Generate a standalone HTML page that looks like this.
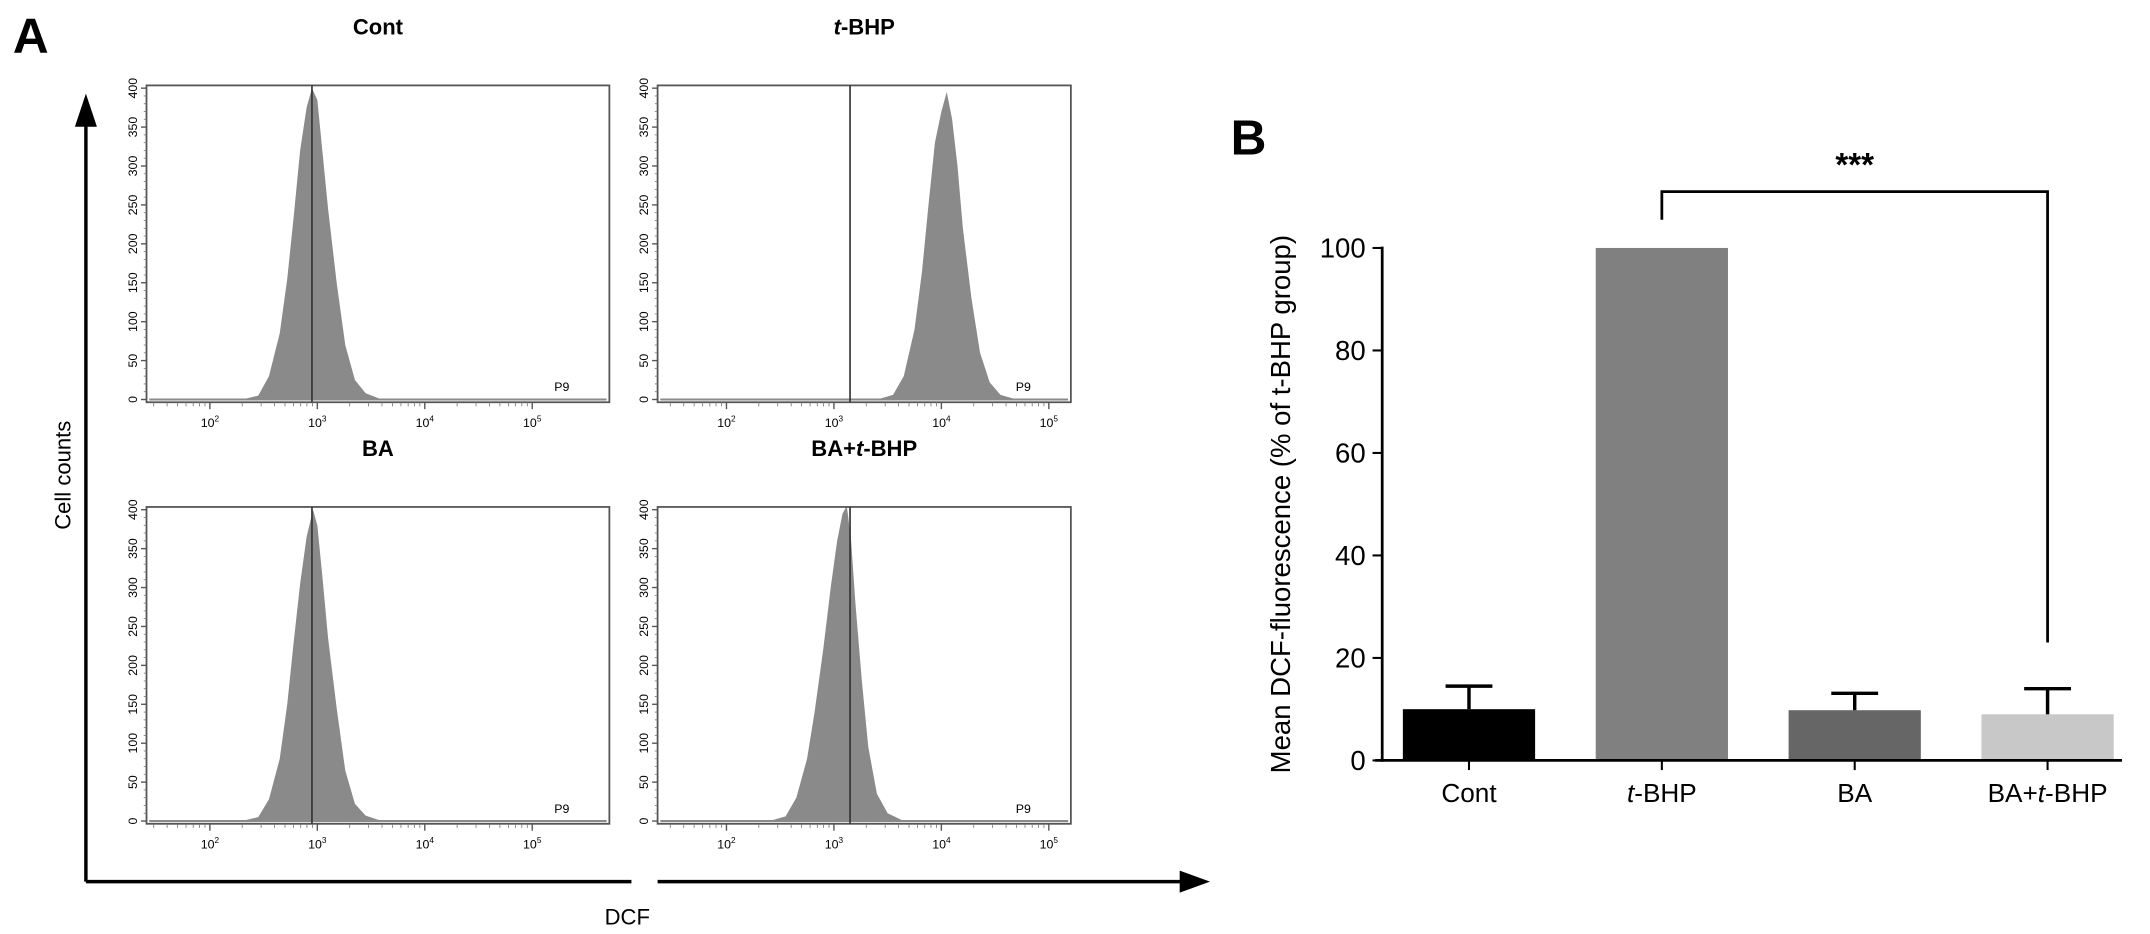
<!DOCTYPE html>
<html><head><meta charset="utf-8"><style>
html,body{margin:0;padding:0;background:#fff;}
svg{display:block;font-family:"Liberation Sans",Arial,sans-serif;}
</style></head><body>
<svg id="fig" width="2150" height="934" viewBox="0 0 1560 678" xmlns="http://www.w3.org/2000/svg">
<text x="9" y="38" font-size="36" font-weight="bold">A</text>
<text x="893" y="112" font-size="36" font-weight="bold">B</text>
<g>
<line x1="62" y1="640" x2="62" y2="85" stroke="#000" stroke-width="2.5"/>
<polygon points="62,68 54,92 70,92" fill="#000"/>
<line x1="62" y1="640" x2="458" y2="640" stroke="#000" stroke-width="2.5"/>
<line x1="477" y1="640" x2="862" y2="640" stroke="#000" stroke-width="2.5"/>
<polygon points="878,640 856,632 856,648" fill="#000"/>
<text x="0" y="0" transform="translate(51,345) rotate(-90)" text-anchor="middle" font-size="16">Cell counts</text>
<text x="455" y="671" text-anchor="middle" font-size="16">DCF</text>
</g>
<g id="hists"></g>
<g id="bars"></g>
</svg>
<script>
const NS="http://www.w3.org/2000/svg";
function el(tag,attrs,parent,txt){const e=document.createElementNS(NS,tag);for(const k in attrs)e.setAttribute(k,attrs[k]);if(txt!==undefined)e.textContent=txt;parent.appendChild(e);return e;}

// ---- Panel A histogram data: [log10(DCF), count] ----
const histTitles=["Cont","t-BHP","BA","BA+t-BHP"];
const contLog=[2.3,2.45,2.55,2.65,2.72,2.78,2.84,2.9,2.95,3.0,3.05,3.1,3.18,3.26,3.35,3.45,3.6];
const contCnt=[0,5,30,85,155,235,320,375,400,385,315,245,150,70,25,8,0];
const tbhpLog=[3.4,3.55,3.65,3.75,3.82,3.88,3.94,4.0,4.05,4.1,4.15,4.2,4.28,4.36,4.45,4.55,4.7];
const tbhpCnt=[0,6,30,90,165,250,330,370,395,360,300,220,130,60,22,6,0];
const baLog=[2.3,2.45,2.55,2.65,2.72,2.78,2.84,2.9,2.96,3.0,3.05,3.1,3.18,3.26,3.35,3.45,3.6];
const baCnt=[0,5,28,80,150,230,305,365,400,380,310,235,145,65,22,7,0];
const babLog=[2.4,2.55,2.65,2.75,2.82,2.9,2.97,3.03,3.08,3.12,3.16,3.2,3.26,3.32,3.4,3.5,3.65];
const babCnt=[0,6,30,80,140,220,300,360,395,405,360,280,180,95,35,10,0];
const markerLog=[2.95,3.15,2.95,3.15];
const yTicks=[0,50,100,150,200,250,300,350,400];
const xDecades=[2,3,4,5];

const panels=[
 {x0:106,y0:62,L:contLog,C:contCnt,name:"cont"},
 {x0:477,y0:62,L:tbhpLog,C:tbhpCnt,name:"t-bhp"},
 {x0:106,y0:368,L:baLog,C:baCnt,name:"ba"},
 {x0:477,y0:368,L:babLog,C:babCnt,name:"ba-t-bhp"}
];
const H=document.getElementById('hists');
panels.forEach((p,i)=>{
  const w=300+(i%2===0?36:0), h=230;
  const x2=p.x0+w, yb=p.y0+h;
  const xs=v=>p.x0+(i%2===0?46:50)+(v-2)*78;
  const ys=v=>yb-2-v/400*(h-4);
  const g=el('g',{},H);
  
  
  const t=el('text',{x:p.x0+w/2,y:p.y0-37,'text-anchor':'middle','font-size':16,'font-weight':'600'},g);
  
  
  if(i===1){el('tspan',{'font-style':'italic'},t,'t');el('tspan',{},t,'-BHP');}
  else if(i===3){el('tspan',{},t,'BA+');el('tspan',{'font-style':'italic'},t,'t');el('tspan',{},t,'-BHP');}
  else t.textContent=histTitles[i];
  let pts=[[xs(p.L[0]),ys(0)]];
  p.L.forEach((v,k)=>pts.push([xs(v),ys(p.C[k])]));
  pts.push([xs(p.L[p.L.length-1]),ys(0)]);
  const poly=el('polygon',{points:pts.map(q=>q.join(',')).join(' '),fill:'#8a8a8a'},g);
  
  
  el('line',{x1:p.x0+2,y1:ys(0),x2:x2-2,y2:ys(0),stroke:'#8a8a8a','stroke-width':1.5},g);
  el('rect',{x:p.x0,y:p.y0,width:w,height:h,fill:'none',stroke:'#555','stroke-width':1.3},g);
  const m=el('line',{x1:xs(markerLog[i]),y1:p.y0,x2:xs(markerLog[i]),y2:yb,stroke:'#333','stroke-width':1.2},g);
  
  
  el('text',{x:x2-40,y:yb-8,'font-size':9},g,'P9');
  yTicks.forEach(v=>{
    el('line',{x1:p.x0-4,y1:ys(v),x2:p.x0,y2:ys(v),stroke:'#555'},g);
    el('text',{transform:`translate(${p.x0-7},${ys(v)}) rotate(-90)`,'text-anchor':'middle','font-size':9},g,String(v));
    if(v<400) for(let k=1;k<5;k++) el('line',{x1:p.x0-2,y1:ys(v+k*10),x2:p.x0,y2:ys(v+k*10),stroke:'#777','stroke-width':0.6},g);
  });
  xDecades.forEach(d=>{
    el('line',{x1:xs(d),y1:yb,x2:xs(d),y2:yb+5,stroke:'#555'},g);
    for(let k=2;k<10;k++){const xv=xs(d-1+Math.log10(k));if(xv>p.x0)el('line',{x1:xv,y1:yb,x2:xv,y2:yb+3,stroke:'#777','stroke-width':0.6},g);}
    const tl=el('text',{x:xs(d),y:yb+18,'text-anchor':'middle','font-size':9},g);
    el('tspan',{},tl,'10');el('tspan',{dy:-4,'font-size':6},tl,String(d));
  });
});

// ---- Panel B bar chart data ----
const barCats=["Cont","t-BHP","BA","BA+t-BHP"];
const barVals=[10,100,9.8,9];
const barErr=[4.5,0,3.3,5];
const barColors=["#000000","#808080","#666666","#c8c8c8"];
const bTicks=[0,20,40,60,80,100];
const B=document.getElementById('bars');
const bx0=1003,bx1=1540,by0=552,by100=180;
const yB=v=>by0-(by0-by100)*v/100;
const xB=i=>1066+i*140;
const bw=96;
bTicks.forEach(v=>{
  el('line',{x1:bx0-7,y1:yB(v),x2:bx0,y2:yB(v),stroke:'#000','stroke-width':1.5},B);
  const t=el('text',{x:bx0-12,y:yB(v)+7,'text-anchor':'end','font-size':20},B,String(v));
  
  
});
barVals.forEach((v,i)=>{
  const r=el('rect',{x:xB(i)-bw/2,y:yB(v),width:bw,height:yB(0)-yB(v),fill:barColors[i]},B);
  
  
  if(barErr[i]>0){
    el('line',{x1:xB(i),y1:yB(v),x2:xB(i),y2:yB(v+barErr[i]),stroke:'#000','stroke-width':2.5},B);
    el('line',{x1:xB(i)-17,y1:yB(v+barErr[i]),x2:xB(i)+17,y2:yB(v+barErr[i]),stroke:'#000','stroke-width':2.5},B);
  }
  el('line',{x1:xB(i),y1:by0,x2:xB(i),y2:by0+7,stroke:'#000','stroke-width':1.5},B);
  const t=el('text',{x:xB(i),y:by0+30,'text-anchor':'middle','font-size':19},B);
  
  
  if(i===1){el('tspan',{'font-style':'italic'},t,'t');el('tspan',{},t,'-BHP');}
  else if(i===3){el('tspan',{},t,'BA+');el('tspan',{'font-style':'italic'},t,'t');el('tspan',{},t,'-BHP');}
  else t.textContent=barCats[i];
});
el('line',{x1:bx0,y1:yB(100)-1,x2:bx0,y2:by0+1,stroke:'#000','stroke-width':2},B);
el('line',{x1:bx0-5,y1:by0,x2:bx1,y2:by0,stroke:'#000','stroke-width':2},B);
const yt=el('text',{transform:`translate(936,366) rotate(-90)`,'text-anchor':'middle','font-size':20},B,'Mean DCF-fluorescence (% of t-BHP group)');


const br=el('polyline',{points:`${xB(1)},${yB(105.5)} ${xB(1)},${yB(111)} ${xB(3)},${yB(111)} ${xB(3)},${yB(23)}`,fill:'none',stroke:'#000','stroke-width':2},B);


const st=el('text',{x:(xB(1)+xB(3))/2,y:yB(114),'text-anchor':'middle','font-size':24,'font-weight':'bold'},B,'***');


</script>
</body></html>
